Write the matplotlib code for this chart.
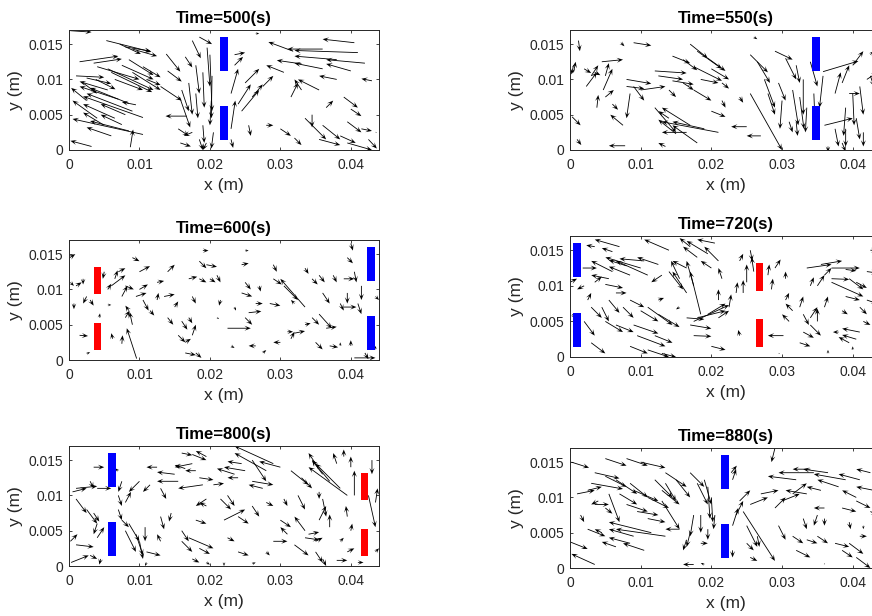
import numpy as np
import matplotlib
matplotlib.use("Agg")
import matplotlib.pyplot as plt
import matplotlib.ticker as mticker
from matplotlib.patches import Rectangle

plt.rcParams["font.family"] = ["Liberation Sans", "DejaVu Sans"]

# Velocity vectors in mm: columns are x, y, u, v (tail position and displacement)
arrows_500 = np.array([
    (0.2, 16.9, 3.0, -0.2), (5.3, 15.5, 6.4, -1.6), (7.2, 15.0, 3.0, -1.4), (8.0, 14.6, 3.6, -0.6),
    (9.0, 14.3, 3.5, -1.0), (1.5, 12.5, 5.5, 0.8), (3.5, 12.3, 4.0, 0.6), (4.0, 11.8, 6.0, -1.8),
    (5.5, 11.5, 6.5, -3.0), (6.0, 11.0, 5.8, -2.8), (7.5, 12.0, 4.5, -2.0), (8.5, 12.8, 3.5, -2.2),
    (9.0, 11.0, 4.0, -2.5), (10.5, 11.8, 2.5, -1.5), (1.0, 10.5, 4.0, -0.2), (2.5, 10.2, 3.5, -0.8),
    (3.8, 10.0, 2.8, -1.4), (6.5, 10.0, 4.0, -1.5), (11.0, 10.0, 2.0, -0.8), (13.8, 13.6, 2.0, -2.5),
    (14.0, 11.2, 2.0, -1.5), (10.5, 4.6, -8.5, 3.0), (9.0, 5.5, -6.5, 2.5), (8.5, 6.6, -5.5, 2.2),
    (7.0, 7.2, -5.5, 1.8), (5.5, 8.5, -4.0, 1.2), (8.0, 5.0, -3.5, 1.5), (6.5, 4.5, -4.5, 2.0),
    (4.0, 4.5, -3.5, 2.5), (2.5, 7.0, -2.2, 1.8), (9.5, 6.4, -2.0, 0.4), (2.0, 9.5, 2.0, -1.5),
    (10.5, 2.2, -10.0, 2.2), (8.5, 2.7, -5.5, 1.4), (6.0, 2.0, -3.5, 1.2), (3.2, 0.5, -3.0, 0.8),
    (8.7, 0.4, 0.4, 2.5), (7.5, 3.6, -3.0, 1.4), (5.0, 3.5, -3.0, 1.8), (13.0, 9.0, 3.0, -2.0),
    (16.0, 8.5, 1.0, -3.0), (15.7, 7.5, 1.5, -4.3), (17.0, 9.5, 0.5, -4.5), (16.7, 4.8, -3.0, 0.0),
    (15.5, 3.0, 1.5, -1.0), (17.5, 2.5, -1.2, -0.5), (15.8, 1.0, 1.5, -0.5), (18.5, 1.5, 0.5, -1.5),
    (19.0, 3.5, 0.2, -2.5), (19.5, 1.0, -0.5, -1.0), (17.5, 15.5, 1.2, -2.5), (18.5, 16.0, 1.8, -1.0),
    (19.6, 14.5, 0.4, -5.5), (20.0, 13.5, 0.3, -8.0), (18.0, 12.0, 0.5, -4.0), (19.0, 11.0, 0.2, -5.0),
    (20.3, 10.5, -0.1, -6.0), (16.5, 13.2, 1.0, -1.5), (18.0, 8.0, 0.3, -3.5), (20.2, 7.0, -0.2, -3.5),
    (20.5, 2.5, -0.3, -2.3), (23.0, 3.0, 0.6, 4.0), (24.0, 6.5, 1.8, 2.8), (23.0, 8.0, 1.0, 3.5),
    (24.5, 5.5, 2.5, 3.0), (23.5, 12.0, 1.2, 1.2), (23.5, 13.5, 1.5, 0.3), (25.0, 9.5, 2.0, 2.0),
    (23.0, 1.5, 0.3, -1.2), (25.5, 3.5, 0.3, -1.5), (26.0, 7.5, 1.5, 1.8), (27.5, 9.0, 1.5, 1.5),
    (26.5, 16.5, 0.5, 0.0), (41.0, 13.8, -9.0, 0.3), (36.0, 14.3, -5.0, 0.0), (40.5, 15.2, -4.5, 0.5),
    (31.8, 14.0, -3.5, 1.3), (38.0, 12.8, -6.0, 0.5), (42.0, 12.3, -5.5, 0.5), (36.0, 11.5, -4.0, 0.8),
    (40.0, 11.2, -3.5, 1.0), (33.0, 12.2, -3.5, 0.5), (30.5, 11.0, -2.5, 1.0), (43.0, 9.8, -1.5, 0.3),
    (35.5, 8.5, -3.0, 1.5), (38.0, 10.0, -2.5, 0.5), (39.0, 7.5, 2.0, -1.5), (33.0, 8.5, -1.0, 1.5),
    (31.5, 7.5, 1.0, 2.0), (36.5, 6.0, 1.0, 1.0), (39.5, 4.0, 2.0, -1.5), (40.0, 5.8, 1.5, -1.0),
    (34.5, 5.0, 0.0, -1.8), (33.5, 4.5, 3.0, -3.0), (36.0, 3.5, 2.5, -2.0), (38.5, 2.0, 2.2, -1.0),
    (41.5, 3.0, 1.5, -0.3), (39.5, 1.0, 3.5, -1.0), (42.5, 1.5, 1.2, -1.3), (35.5, 1.5, 3.0, -0.8),
    (32.0, 1.7, 1.0, -1.0), (30.0, 3.0, 1.5, -1.0), (28.0, 3.5, 1.0, 0.0), (43.5, 2.5, 0.2, 0.0),
])

arrows_550 = np.array([
    (0.3, 4.7, 1.2, -1.2), (0.5, 12.0, -0.3, -1.3), (0.5, 11.0, 0.3, 1.5), (1.2, 15.5, 0.2, -1.5),
    (2.0, 11.5, 1.0, -0.6), (2.3, 9.0, 1.5, 2.0), (3.0, 10.5, 1.0, 1.5), (3.5, 11.0, 0.8, -0.4),
    (4.5, 12.5, 3.0, 0.3), (4.7, 8.5, 1.3, 3.0), (5.0, 10.5, 0.5, 1.8), (3.8, 6.0, 0.2, 1.8),
    (5.0, 7.5, 1.2, 1.0), (6.0, 6.5, 0.8, -0.8), (1.0, 1.5, 0.6, -0.8), (7.8, 0.6, -2.3, 0.0),
    (7.5, 3.5, -1.8, 1.5), (7.2, 15.2, 0.5, -0.5), (9.0, 15.2, 2.5, -0.4), (8.0, 10.0, 3.5, -0.6),
    (8.0, 9.0, 2.5, -0.3), (9.0, 9.0, 1.5, -2.0), (8.5, 8.0, -0.5, -3.5), (10.0, 8.5, 3.5, 0.5),
    (12.0, 11.2, 4.5, -0.3), (12.5, 10.5, 3.5, -0.5), (14.5, 9.8, 3.0, -0.5), (14.5, 13.3, 2.5, -1.0),
    (16.0, 12.8, 2.0, -1.5), (17.0, 15.0, 2.5, -2.0), (18.0, 14.0, 3.5, -2.5), (19.5, 13.0, 2.5, -1.8),
    (20.0, 11.5, 2.5, -1.5), (17.5, 11.8, 4.0, -2.0), (18.5, 10.0, 2.5, -0.5), (17.5, 8.5, 2.5, -1.5),
    (14.0, 8.5, 1.0, -1.0), (16.0, 9.5, 1.5, -1.0), (21.5, 9.5, 1.0, -0.8), (12.0, 6.0, 3.0, -3.5),
    (14.0, 4.5, -1.5, 1.0), (17.0, 3.5, -4.0, 2.5), (21.0, 2.5, -8.0, 1.5), (19.0, 3.0, -4.5, 1.0),
    (15.0, 2.3, -2.5, 2.0), (16.5, 2.5, -3.5, 0.0), (18.0, 1.0, -3.5, 2.5), (13.5, 0.5, -1.0, 0.5),
    (20.0, 5.5, 2.0, -0.8), (21.5, 7.0, 0.5, -1.0), (25.0, 3.3, -2.2, 0.0), (24.0, 7.5, 0.5, -0.8),
    (27.0, 2.0, -2.0, 0.0), (25.5, 13.5, 2.5, -2.5), (26.5, 12.5, 1.8, -3.0), (29.0, 14.0, 2.5, -1.2),
    (30.5, 13.0, 1.5, -3.0), (25.5, 8.0, 4.5, -8.0), (27.5, 10.0, 1.5, -4.0), (28.0, 8.0, 1.0, -3.0),
    (29.5, 9.5, 1.0, -2.5), (30.0, 7.0, -0.3, -4.0), (31.0, 4.0, 0.5, -1.5), (32.0, 12.0, 0.5, -2.5),
    (33.0, 10.0, 0.0, -5.0), (32.5, 7.5, 0.6, -4.5), (31.5, 8.5, 0.8, -5.0), (33.5, 6.0, -0.2, -3.5),
    (32.0, 4.0, 0.2, -2.0), (26.0, 16.0, 0.5, -0.3), (34.5, 8.0, 0.2, -5.0), (35.8, 10.5, -0.5, -4.5),
    (35.8, 11.1, 5.0, 1.5), (36.0, 3.5, 4.0, 1.0), (37.5, 8.0, 0.8, 3.0), (38.5, 9.5, 1.0, 2.5),
    (39.0, 6.0, -0.3, -4.0), (40.0, 8.0, 0.2, -4.5), (39.5, 8.0, 1.5, 0.0), (41.0, 9.0, 0.5, -4.0),
    (42.0, 10.0, 1.5, 1.0), (40.5, 4.5, 0.5, -3.0), (37.5, 3.0, 0.5, -2.5), (41.5, 2.5, 0.0, -2.0),
    (39.0, 3.0, 0.0, -2.5), (40.0, 12.0, 1.5, 2.0), (42.5, 10.5, 0.5, -1.5), (43.0, 7.0, 0.8, -2.0),
    (36.5, 0.5, 0.0, -0.8), (38.5, 1.0, 0.5, -1.2), (42.5, 13.5, 0.5, 0.5), (34.0, 12.5, 1.0, -3.5),
])

arrows_600 = np.array([
    (0.1, 14.5, 0.8, 0.5), (0.2, 11.0, 0.5, -0.5), (1.0, 10.5, 0.8, 0.5), (2.0, 11.5, 0.0, -0.8),
    (2.5, 9.0, -0.5, -1.0), (3.0, 8.5, 0.5, -0.8), (0.7, 8.0, 0.0, -0.8), (1.5, 3.5, 1.2, -0.1),
    (2.5, 0.9, 0.5, 0.2), (4.3, 6.0, 0.1, 0.6), (5.0, 12.5, -0.2, -1.0), (5.5, 10.0, 0.5, 0.8),
    (6.0, 10.5, 2.0, 1.5), (6.5, 11.5, 0.4, 1.2), (7.0, 12.5, 1.0, 0.5), (7.5, 9.0, 0.8, 1.5),
    (5.5, 7.8, 0.5, 0.0), (6.2, 3.0, -0.2, 0.8), (7.5, 2.3, 0.1, 1.2), (9.6, 0.2, -1.4, 4.3),
    (8.0, 6.0, 0.6, 1.0), (8.5, 7.0, -0.5, 0.7), (9.0, 5.0, -0.4, 1.8), (8.0, 10.5, 1.2, -0.5),
    (9.0, 14.5, 1.0, -0.5), (10.0, 12.5, 1.5, 0.8), (9.5, 9.0, 1.5, 0.5), (10.5, 8.5, 0.8, -1.5),
    (11.5, 7.0, 0.6, -0.7), (10.0, 10.0, 1.2, 0.7), (12.5, 8.5, 0.2, 1.0), (12.5, 11.0, 1.0, 0.2),
    (14.0, 12.5, 1.0, 1.0), (13.5, 9.0, 1.5, 0.3), (14.0, 6.0, 0.8, -1.0), (15.0, 7.5, 0.5, 0.8),
    (16.0, 5.5, 0.8, -1.2), (17.0, 6.0, 0.5, -0.8), (15.5, 3.5, 1.0, -1.0), (16.5, 2.5, 0.8, 0.5),
    (17.5, 3.5, 0.5, 1.5), (16.5, 1.0, 1.5, -0.3), (18.0, 1.0, 0.8, -0.7), (17.5, 9.0, 0.5, -1.0),
    (17.0, 11.5, 1.2, 0.3), (19.0, 15.5, 0.8, 0.0), (18.5, 14.0, 1.0, -1.0), (19.5, 13.5, 1.5, -0.3),
    (18.5, 11.5, 1.0, -0.5), (20.0, 11.5, 0.8, -0.5), (21.0, 12.0, 0.5, -1.0), (21.5, 8.5, -0.2, -0.8),
    (21.0, 6.0, 0.3, -0.2), (22.5, 4.5, 3.3, 0.0), (23.5, 7.5, 0.2, -0.5), (23.0, 2.0, 0.5, -0.3),
    (25.0, 15.5, 0.5, 0.0), (24.5, 13.5, 1.0, 0.2), (25.0, 11.0, 0.8, -1.0), (24.5, 9.5, 1.5, -0.5),
    (25.0, 6.0, 1.0, -1.0), (25.5, 6.7, 1.8, 0.2), (26.5, 2.0, -1.0, 0.0), (26.5, 8.0, 1.0, 0.0),
    (27.0, 10.5, 0.2, -0.8), (28.5, 8.0, 1.5, -0.3), (27.5, 1.0, 0.5, 0.4), (29.0, 11.5, 1.2, -0.8),
    (29.0, 13.5, 0.5, -1.0), (33.5, 7.5, -3.5, 4.0), (30.5, 10.5, 2.0, -2.0), (32.0, 8.0, -0.5, 0.5),
    (31.0, 4.0, 0.8, 0.0), (31.5, 3.0, 0.5, 1.0), (30.0, 2.5, -1.0, 0.0), (32.0, 3.8, 1.5, 0.3),
    (33.5, 5.0, 0.8, 0.2), (33.5, 13.0, 0.5, -0.8), (34.5, 11.5, 0.8, -0.8), (35.5, 12.0, 0.8, -1.0),
    (34.5, 6.0, 1.0, -1.0), (35.0, 2.5, 1.0, -1.0), (36.5, 4.5, 1.5, 0.2), (36.0, 9.5, 1.0, -1.5),
    (35.5, 6.5, 1.8, -2.0), (37.5, 12.0, 0.5, -1.0), (37.0, 2.0, 1.2, -0.2), (38.5, 2.0, 0.0, 0.5),
    (38.5, 8.0, 0.5, -1.0), (39.0, 7.5, 1.8, 0.0), (39.5, 9.5, 0.0, -1.5), (39.0, 11.5, 1.5, 0.0),
    (40.5, 12.5, 0.3, -1.5), (40.0, 16.5, 0.3, -1.0), (39.5, 14.5, 0.8, -0.8), (41.5, 10.5, 0.0, -2.0),
    (41.0, 8.0, 0.5, -1.5), (40.5, 0.3, 3.0, 0.0), (42.0, 1.0, 0.5, -0.9), (43.5, 9.0, 0.5, -0.5),
    (40.0, 2.0, 0.0, 0.8), (43.5, 1.5, 0.0, 0.5),
])

arrows_720 = np.array([
    (0.0, 10.5, 1.0, 0.5), (1.8, 12.5, 2.0, 0.0), (3.5, 15.5, -1.2, 0.2), (7.0, 15.5, -3.5, 1.0),
    (6.0, 14.8, -1.5, 0.5), (8.0, 12.8, -2.5, 0.8), (10.0, 12.5, -5.0, 1.5), (10.5, 13.5, -3.5, 0.3),
    (11.0, 11.5, -4.5, 2.0), (8.5, 11.5, -3.0, 1.2), (6.0, 12.0, -3.0, 1.5), (5.5, 11.0, -2.5, 0.5),
    (12.5, 13.0, -3.0, 1.0), (14.0, 15.0, -3.5, 1.5), (14.0, 12.0, 2.0, -2.5), (13.0, 11.5, -1.5, -1.0),
    (16.5, 12.5, -2.0, 1.0), (18.0, 14.0, -2.0, 1.5), (17.0, 15.5, -1.5, 1.2), (20.5, 16.0, -2.5, 0.5),
    (19.5, 14.5, -3.0, 1.8), (21.0, 13.5, -2.0, 2.0), (20.0, 12.5, -1.5, 1.0), (21.5, 11.0, -0.5, 1.5),
    (18.5, 6.0, -1.5, 6.0), (17.5, 10.0, -1.0, 3.5), (16.5, 9.0, -2.0, 3.0), (15.5, 11.0, -1.2, 2.5),
    (21.0, 8.0, 0.0, 1.5), (22.5, 7.0, 0.3, 1.8), (17.5, 5.0, 5.0, 2.3), (18.0, 5.5, 4.0, 1.0),
    (19.5, 6.0, 2.5, 1.5), (17.0, 4.5, 3.0, -0.5), (16.5, 5.5, 2.5, -0.2), (17.5, 3.0, 2.5, -0.1),
    (20.0, 1.5, 2.0, -0.5), (21.0, 5.5, 1.5, 1.0), (0.3, 6.0, 0.5, -0.5), (2.5, 8.0, 0.5, 1.0),
    (2.0, 10.0, -1.0, -0.5), (3.5, 10.5, 1.0, 0.8), (5.0, 10.2, 2.5, -0.5), (6.5, 9.0, 1.5, 0.0),
    (3.0, 7.0, 1.5, -1.5), (4.5, 7.0, 1.0, -2.0), (5.5, 8.0, 1.5, -1.8), (7.5, 7.0, 1.5, -1.5),
    (2.0, 5.0, 1.5, -2.0), (5.0, 5.0, 2.5, -1.5), (6.5, 4.5, 2.5, -1.0), (9.0, 4.5, 3.5, -1.2),
    (10.0, 6.5, 2.5, -1.5), (11.0, 7.0, 3.5, -2.5), (12.5, 6.0, 3.0, -1.8), (9.5, 3.0, 4.0, -1.5),
    (12.0, 3.0, 2.5, -1.0), (8.5, 1.5, 2.5, -1.0), (11.0, 1.0, 3.0, -1.0), (13.0, 0.5, 2.0, -0.5),
    (3.0, 2.0, 2.0, -1.5), (8.5, 8.0, 2.0, -1.0), (12.5, 8.0, 0.8, 0.3), (15.5, 7.0, -0.5, -0.3),
    (26.0, 12.0, -0.3, 2.0), (25.0, 10.5, 0.0, 2.5), (24.5, 9.0, 0.0, 1.8), (23.5, 9.0, 0.2, 1.5),
    (25.5, 15.0, 0.3, -1.5), (24.0, 13.5, 0.5, 1.0), (28.5, 9.5, 0.2, 1.5), (28.0, 11.5, 0.2, 1.5),
    (29.0, 12.5, 0.8, 1.2), (24.0, 3.0, -0.2, 0.8), (30.2, 3.0, -2.2, 0.0), (30.5, 8.0, 0.5, 1.0),
    (31.5, 6.5, -1.0, 1.0), (31.0, 5.0, -1.0, 1.0), (32.5, 7.0, 0.5, 1.5), (33.0, 6.0, 0.8, -1.5),
    (34.0, 5.5, 1.0, 1.5), (35.0, 5.0, 0.0, 1.8), (33.0, 3.5, 1.5, -0.8), (32.5, 2.0, 1.5, -0.5),
    (34.0, 4.5, 1.5, -1.5), (36.0, 7.0, 0.5, 1.5), (35.0, 10.0, 1.0, 1.5), (36.0, 11.5, 1.0, 1.0),
    (33.5, 12.5, 3.5, 0.5), (35.5, 13.0, 3.0, 0.5), (37.0, 12.5, 4.0, 0.0), (39.0, 12.3, 1.5, -0.2),
    (37.0, 11.0, 2.5, -0.1), (37.0, 10.5, 4.5, -2.0), (39.5, 11.0, 2.0, -1.5), (40.5, 10.5, 1.5, -0.8),
    (39.0, 8.5, 2.0, -0.5), (42.0, 8.0, 1.5, -0.5), (41.0, 7.0, 1.0, -1.0), (38.5, 6.5, 0.8, -0.5),
    (41.0, 3.5, -2.5, 0.5), (40.5, 2.5, -2.0, 0.6), (39.5, 2.0, -1.5, 0.8), (38.0, 3.5, -0.8, 0.0),
    (42.0, 12.0, 1.5, -0.2), (42.5, 15.0, 1.0, 0.0), (36.5, 0.5, 0.0, 0.5), (40.0, 1.0, 0.0, 0.5),
    (29.5, 0.5, 0.2, 0.0), (41.5, 5.0, 1.0, -0.5), (30.5, 11.0, 0.0, 1.0), (34.0, 10.0, 0.5, 1.2),
])

arrows_800 = np.array([
    (0.2, 3.5, 1.0, 1.0), (1.0, 3.0, 2.5, -0.3), (0.3, 0.5, 2.5, 1.0), (3.0, 1.5, 1.0, -0.5),
    (0.5, 10.5, 2.0, 0.5), (1.0, 11.0, 3.0, 0.3), (1.0, 9.5, 1.5, -2.0), (2.5, 8.0, 1.5, -2.0),
    (3.0, 12.0, 0.5, -1.0), (3.5, 14.0, 1.5, 0.0), (4.0, 11.0, 2.0, 0.0), (3.5, 7.5, 0.8, -1.2),
    (4.0, 4.0, 1.0, 1.5), (4.5, 1.0, -0.2, -0.8), (4.0, 6.0, -0.5, -1.5), (7.0, 13.5, -0.5, 0.3),
    (7.5, 12.0, -0.5, -1.5), (7.0, 10.0, 0.5, -1.5), (8.0, 9.0, 0.8, 1.5), (7.0, 8.0, 0.5, -1.5),
    (7.5, 6.5, 1.0, -1.0), (8.0, 5.0, 1.5, -3.0), (8.5, 6.0, 1.5, -2.5), (9.5, 4.5, 1.0, -3.0),
    (10.0, 3.5, 0.5, -2.5), (10.8, 5.5, 0.0, -2.0), (11.0, 2.0, 2.0, -0.5), (11.0, 0.5, -0.2, -0.5),
    (10.0, 12.0, -1.5, -1.5), (11.5, 11.5, -1.0, -1.0), (12.5, 14.0, -1.5, 0.0), (13.0, 11.0, 0.8, -1.5),
    (13.0, 7.0, 0.5, -1.8), (15.5, 12.0, -3.0, 0.0), (15.0, 13.0, -2.5, 0.3), (16.5, 13.8, -1.5, 0.5),
    (17.5, 14.5, -2.5, -0.5), (18.0, 13.5, -1.5, 0.0), (18.5, 12.5, 2.0, -0.3), (19.0, 11.5, -3.5, -0.5),
    (17.5, 15.8, 2.0, -0.8), (16.0, 16.0, 1.5, -0.3), (19.5, 15.5, -1.5, 0.8), (20.5, 11.5, 1.5, 0.2),
    (19.5, 9.5, -1.5, -1.0), (19.5, 8.5, -1.0, 0.5), (18.0, 6.5, 1.5, -0.5), (16.0, 5.0, 1.0, -1.5),
    (16.0, 3.5, 1.5, -1.5), (17.0, 4.0, 3.5, -1.5), (18.5, 2.5, 1.5, -0.8), (17.5, 1.0, 1.0, -0.5),
    (19.5, 0.5, 0.5, -0.3), (22.0, 6.5, 3.0, 1.5), (21.5, 9.5, 1.5, -1.5), (22.5, 10.0, 1.0, -1.5),
    (24.0, 7.0, 1.5, -1.0), (26.0, 8.5, 1.0, -1.5), (22.5, 4.0, 1.0, -0.5), (24.0, 2.0, 1.5, -0.5),
    (25.0, 13.5, -3.0, 0.5), (24.5, 14.5, -2.0, 0.3), (23.5, 13.0, -2.5, 0.8), (24.0, 12.5, -1.5, 0.0),
    (29.0, 14.5, -5.5, 2.5), (28.0, 13.5, -4.5, 2.5), (30.0, 14.0, -3.0, 0.8), (26.0, 15.0, 2.0, -3.0),
    (26.0, 12.0, 3.0, -0.5), (27.5, 11.0, -2.0, 0.5), (30.5, 9.5, 0.5, -1.0), (28.0, 9.0, 1.0, -0.5),
    (32.5, 10.0, 1.0, -2.0), (31.5, 13.5, 2.5, -2.0), (33.0, 12.5, 1.5, -1.5), (30.0, 6.5, 1.5, -1.0),
    (29.0, 3.5, 2.0, 0.0), (28.0, 2.0, 0.5, -0.5), (31.0, 4.5, -1.0, 1.0), (32.0, 3.0, 2.0, -1.5),
    (33.5, 5.0, -1.5, 2.0), (33.5, 4.0, 2.0, -0.3), (34.0, 4.5, 1.5, 0.3), (35.0, 3.5, 1.0, 0.5),
    (35.0, 2.0, 1.0, -1.5), (36.0, 1.0, 0.5, -1.0), (35.5, 6.5, 1.0, 2.0), (37.0, 5.5, 0.0, 1.8),
    (36.0, 9.5, 0.5, -2.5), (35.5, 10.5, 0.0, -1.0), (35.0, 14.5, -1.0, 1.5), (36.0, 13.0, -1.5, 2.0),
    (37.0, 12.0, -2.5, 3.0), (38.5, 11.0, -3.5, 3.5), (39.5, 10.0, -5.5, 4.0), (38.0, 14.5, -0.5, 1.5),
    (39.0, 15.5, 0.0, 1.0), (40.0, 14.0, 0.0, 1.5), (40.5, 10.0, 0.0, 3.5), (39.5, 7.0, -0.2, 1.5),
    (40.0, 5.0, 0.2, 1.0), (38.5, 3.5, 0.5, 0.5), (39.5, 2.0, 1.0, 0.5), (43.0, 15.0, 0.0, -2.0),
    (42.5, 10.0, 1.0, -4.5), (43.5, 9.0, 0.3, 2.0), (43.5, 2.0, 0.5, 0.5), (41.0, 0.5, 0.8, 0.0),
    (38.0, 0.8, 1.5, 0.0), (26.0, 0.3, 0.5, 0.2), (22.0, 0.5, 0.0, -0.5), (14.5, 7.5, -0.3, -1.2),
    (13.0, 3.5, -0.5, 1.0),
])

arrows_880 = np.array([
    (0.2, 15.0, 2.5, -0.8), (0.0, 3.7, 2.5, -1.0), (3.5, 0.5, -3.3, 1.5), (5.0, 15.5, 3.0, -1.0),
    (8.0, 15.5, 3.0, -1.0), (10.0, 15.0, 3.5, -0.8), (3.5, 13.5, 3.5, -0.8), (5.0, 13.0, 3.0, -1.5),
    (3.0, 12.0, 4.5, -0.8), (6.5, 12.5, 3.0, -2.0), (8.5, 12.0, 2.5, -2.0), (9.0, 11.0, 3.5, -1.5),
    (12.0, 12.5, 2.5, -2.5), (13.0, 11.0, 2.5, -2.0), (13.5, 13.5, 3.0, -2.0), (15.0, 12.5, 2.0, -2.5),
    (11.0, 10.0, 3.0, -1.5), (7.0, 10.5, 2.5, -1.5), (1.0, 10.5, 2.5, 0.5), (2.5, 11.0, 2.0, 0.5),
    (4.0, 9.5, -1.0, -0.5), (3.5, 9.0, 2.0, 0.0), (5.5, 10.5, 1.5, -4.0), (5.0, 8.5, 1.0, -0.8),
    (8.0, 9.0, 3.0, -1.0), (9.5, 8.0, 3.0, -0.5), (11.0, 7.0, 2.5, -0.5), (1.5, 7.5, 0.5, -1.0),
    (2.5, 5.5, 2.5, -1.0), (4.5, 5.0, -1.0, 0.5), (13.5, 4.5, -7.0, 1.0), (11.5, 5.0, -6.0, 1.5),
    (9.0, 4.5, -3.5, 1.0), (8.5, 3.5, -3.0, 0.8), (10.5, 2.5, -3.0, 1.0), (6.5, 3.0, -2.0, 0.7),
    (15.5, 5.5, -2.0, 0.0), (13.0, 9.5, 2.5, -4.0), (13.5, 12.0, 1.5, -2.5), (17.0, 13.5, 2.0, -2.0),
    (18.0, 12.0, 1.5, -3.0), (19.0, 12.5, 1.0, -3.5), (19.5, 11.5, 0.3, -4.5), (20.0, 10.0, 0.2, -3.5),
    (18.5, 7.5, 0.0, -2.5), (17.5, 7.5, -0.5, -3.0), (17.0, 5.0, -0.5, -2.0), (16.5, 4.0, -0.5, -1.5),
    (17.5, 0.5, -1.5, 0.0), (19.0, 0.5, -0.5, 0.2), (18.5, 3.5, 1.0, 0.0), (19.5, 5.5, 0.0, -1.5),
    (20.5, 7.5, -0.2, -2.0), (23.0, 6.0, 0.8, 2.5), (23.5, 7.5, 1.0, 2.0), (24.0, 9.5, 1.5, 1.5),
    (23.0, 12.5, 0.5, 1.5), (22.8, 13.5, 0.8, 1.0), (24.5, 8.0, 4.5, -7.0), (25.0, 6.0, 1.5, -3.0),
    (23.0, 2.5, 0.0, -1.0), (25.0, 3.5, 1.0, -1.0), (26.5, 4.5, 0.3, -1.5), (25.5, 1.5, 1.0, -0.5),
    (25.5, 9.0, 2.5, 1.0), (27.0, 10.5, 2.5, 0.5), (29.0, 8.5, 1.5, 1.5), (30.0, 9.5, 2.5, 1.0),
    (31.5, 10.5, 2.0, 1.5), (29.0, 17.0, -0.5, -2.0), (32.0, 12.5, -4.0, 0.5), (34.5, 13.5, -5.0, 0.0),
    (34.0, 14.0, -2.5, 0.0), (36.5, 13.5, -3.5, 0.5), (39.0, 12.5, -4.5, 0.8), (38.0, 11.5, -3.0, 1.0),
    (41.0, 12.5, -3.0, 0.8), (42.5, 13.5, -2.0, 0.5), (43.0, 11.0, -2.5, 0.5), (40.5, 10.0, -2.0, 1.0),
    (35.5, 11.0, -2.0, 0.5), (33.5, 10.5, -3.0, 0.5), (36.0, 8.5, -1.5, 0.0), (38.5, 8.5, 2.0, -0.5),
    (40.5, 9.5, 2.0, -1.0), (42.5, 8.0, 1.0, -0.5), (33.0, 7.0, 0.5, -1.5), (35.0, 7.5, -0.5, -1.5),
    (36.0, 7.0, 0.0, -1.0), (29.5, 6.0, 1.0, -2.0), (31.5, 4.5, 1.5, -1.0), (33.5, 4.0, 1.5, -0.5),
    (35.0, 4.5, 1.5, -1.0), (32.0, 2.5, 2.0, -1.0), (37.5, 3.5, 2.0, -0.5), (38.5, 2.5, 1.5, -1.0),
    (39.5, 3.5, 2.0, -1.5), (40.5, 1.5, 2.0, -1.5), (41.0, 4.5, 1.0, 0.0), (41.5, 6.0, 0.0, -0.5),
    (39.5, 6.5, 0.2, -1.0), (36.0, 0.5, 0.0, 0.2),
])

TIMES = [500, 550, 600, 720, 800, 880]
ARROWS = [arrows_500, arrows_550, arrows_600, arrows_720, arrows_800, arrows_880]

# electrode left edges (mm); None where that polarity is absent
BLUE_X = [21.4, 34.2, 42.3, 0.4, 5.5, 21.3]
RED_X = [None, None, 3.6, 26.3, 41.4, None]
BLUE_W, BLUE_Y = 1.2, [(1.4, 6.2), (11.2, 16.0)]
RED_W, RED_Y = 1.0, [(1.4, 5.3), (9.3, 13.2)]

XTICKS = [0, 0.01, 0.02, 0.03, 0.04]
YTICKS = [0, 0.005, 0.01, 0.015]
XLIM = (0, 0.044)
YLIM = (0, 0.017)

MM = 1e-3
W_PX, H_PX = 872, 616
AX_COLOR = "#262626"

# panel boxes in pixels: left, top, width, height
BOXES = [
    (69, 30, 310, 120), (570, 30, 311, 120),
    (69, 240, 310, 120), (570, 236, 311, 121),
    (69, 446, 310, 120), (570, 448, 311, 120),
]

fig = plt.figure(figsize=(W_PX / 100, H_PX / 100), dpi=100)
fig.patch.set_facecolor("white")

for t, arr, bx, rx, box in zip(TIMES, ARROWS, BLUE_X, RED_X, BOXES):
    l, top, w, h = box
    ax = fig.add_axes([l / W_PX, 1 - (top + h) / H_PX, w / W_PX, h / H_PX])

    # barbed heads, closer to open-line arrowheads
    x, y, u, v = (arr * MM).T
    ax.quiver(x, y, u, v, angles="xy", scale_units="xy", scale=1,
              color="black", width=0.0027, headwidth=6, headlength=7.5,
              headaxislength=4.5, zorder=2)

    for x0, width, ys, color in ((bx, BLUE_W, BLUE_Y, "#0000ff"), (rx, RED_W, RED_Y, "#ff0000")):
        if x0 is None:
            continue
        for y0, y1 in ys:
            ax.add_patch(Rectangle((x0 * MM, y0 * MM), width * MM, (y1 - y0) * MM,
                                   facecolor=color, edgecolor="none", zorder=3))

    ax.set_xlim(*XLIM)
    ax.set_ylim(*YLIM)
    ax.set_xticks(XTICKS)
    ax.set_yticks(YTICKS)
    ax.xaxis.set_major_formatter(mticker.FuncFormatter(lambda val, _: f"{val:g}"))
    ax.yaxis.set_major_formatter(mticker.FuncFormatter(lambda val, _: f"{val:g}"))
    ax.tick_params(direction="in", top=True, right=True, length=2.5, width=0.6,
                   color=AX_COLOR, labelcolor=AX_COLOR, labelsize=10, pad=4)
    ax.tick_params(axis="x", pad=5.5)
    for sp in ax.spines.values():
        sp.set_color(AX_COLOR)
        sp.set_linewidth(0.7)

    ax.set_xlabel("x (m)", fontsize=12.5, color=AX_COLOR, labelpad=4.5)
    ax.set_ylabel("y (m)", fontsize=12.5, color=AX_COLOR, labelpad=4)
    ax.set_title(f"Time={t}(s)", fontsize=12, fontweight="bold", pad=5)

fig.savefig("out.png", dpi=100, facecolor="white")
